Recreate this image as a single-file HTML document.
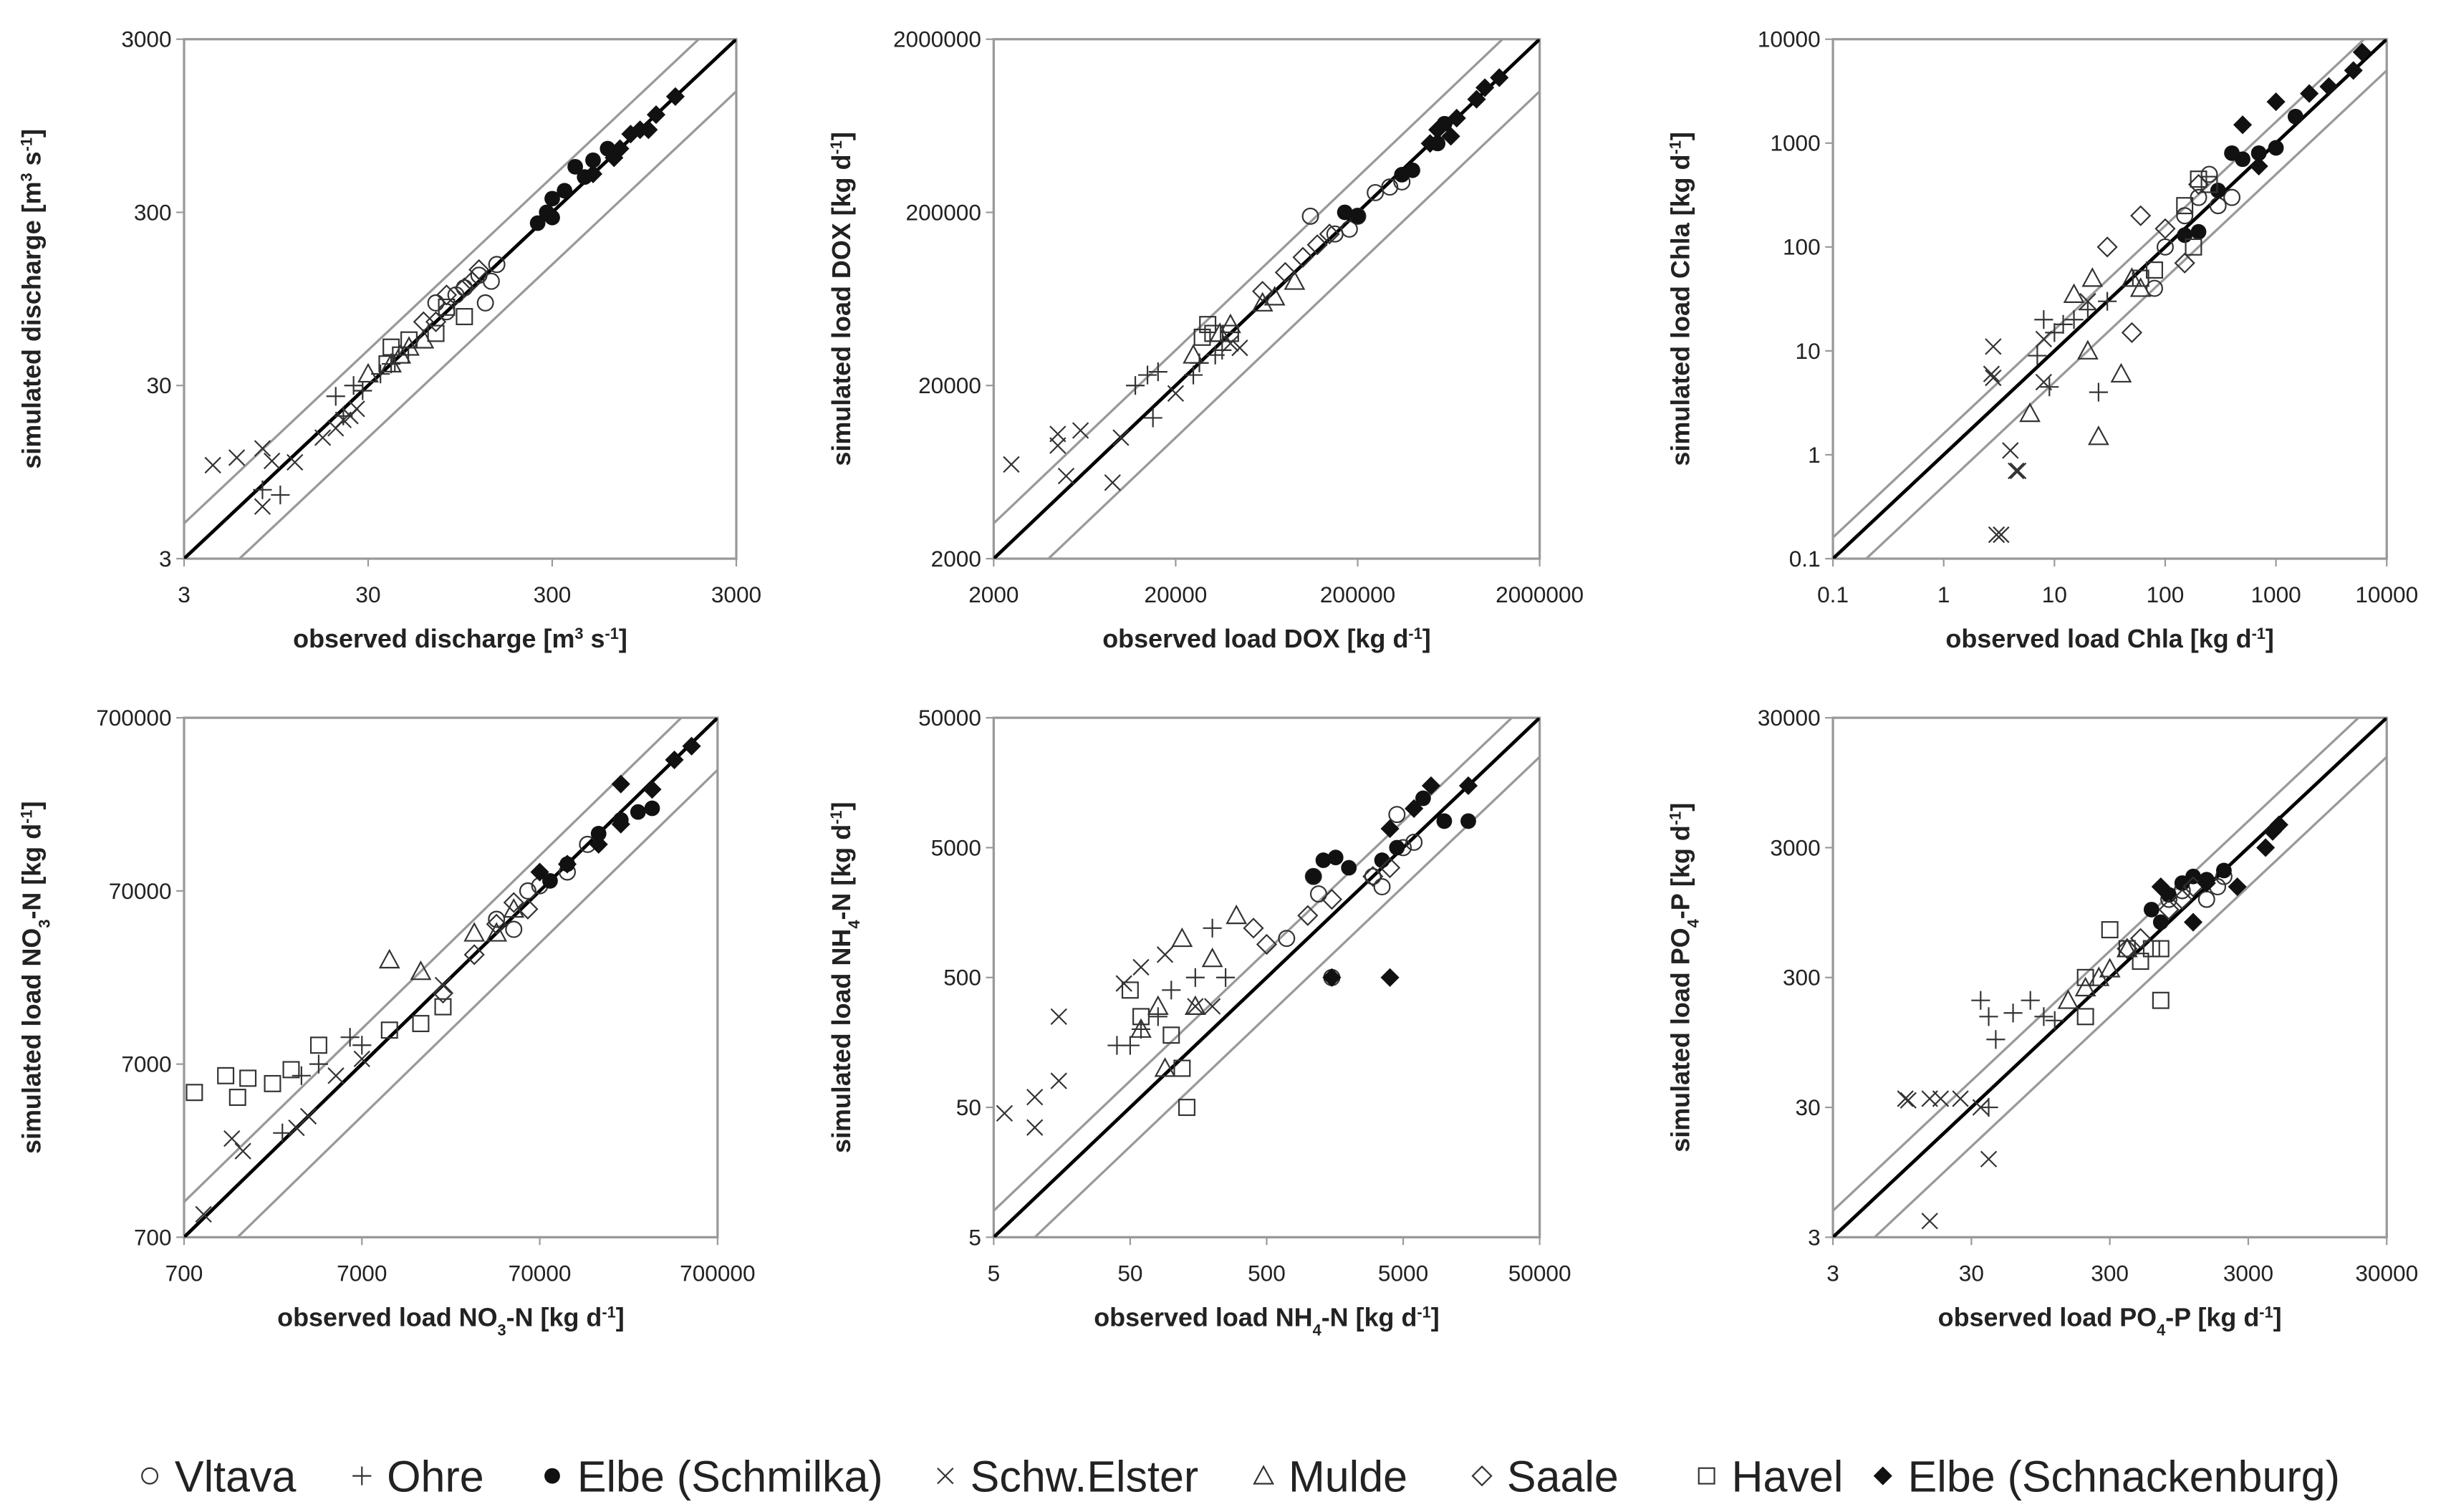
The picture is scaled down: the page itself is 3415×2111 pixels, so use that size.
<!DOCTYPE html>
<html><head><meta charset="utf-8"><style>
html,body{margin:0;padding:0;background:#fff;}
svg{display:block;}
text{font-family:"Liberation Sans","DejaVu Sans",sans-serif;fill:#222;}
</style></head><body>
<svg id="chart" width="3415" height="2111" viewBox="0 0 1568 969" xmlns="http://www.w3.org/2000/svg"></svg>
<script>
// ---- data (observed, simulated) per panel per series ----
const seriesNames = ["Vltava","Ohre","Elbe (Schmilka)","Schw.Elster","Mulde","Saale","Havel","Elbe (Schnackenburg)"];
const seriesKeys = ["vltava","ohre","schmilka","elster","mulde","saale","havel","schnack"];

const p1Vltava = [[70,90],[100,110],[120,130],[130,90],[90,100],[150,150],[80,80],[140,120]];
const p1Ohre = [[8,7.5],[20,26],[25,30],[28,28],[40,40],[35,35],[10,7],[22,20]];
const p1Schmilka = [[300,360],[400,550],[500,600],[300,280],[250,260],[600,700],[350,400],[450,480],[280,300]];
const p1Elster = [[4.3,10.4],[5.8,11.5],[8,13],[9,11],[12,10.8],[17,15],[20,17],[22,19],[24,20],[26,22],[8,6]];
const p1Mulde = [[40,40],[50,50],[60,55],[30,35],[45,45]];
const p1Saale = [[80,100],[100,110],[110,120],[120,140],[70,70],[60,70]];
const p1Havel = [[40,50],[50,55],[70,60],[100,75],[45,45],[80,85],[38,40]];
const p1Schnack = [[500,500],[700,700],[900,900],[1100,1100],[1400,1400],[650,620],[800,850],[1000,900]];

const p2Vltava = [[110000,190000],[150000,150000],[200000,190000],[300000,280000],[350000,300000],[250000,260000],[180000,160000]];
const p2Ohre = [[12000,20000],[14000,23000],[15000,13000],[16000,24000],[27000,27000],[33000,30000],[36000,32000],[25000,23000]];
const p2Schmilka = [[170000,200000],[200000,190000],[350000,330000],[550000,500000],[600000,650000],[400000,350000]];
const p2Elster = [[2500,7000],[4500,9000],[6000,11000],[5000,6000],[10000,10000],[9000,5500],[20000,18000],[45000,33000],[40000,35000],[4500,10500]];
const p2Mulde = [[25000,30000],[35000,40000],[40000,45000],[60000,60000],[70000,65000],[90000,80000]];
const p2Saale = [[80000,90000],[100000,110000],[120000,130000],[140000,150000],[60000,70000]];
const p2Havel = [[30000,45000],[32000,40000],[28000,38000],[40000,40000]];
const p2Schnack = [[500000,500000],[700000,700000],[900000,900000],[1200000,1200000],[1000000,1050000],[550000,600000],[650000,550000]];

const p3Vltava = [[100,100],[200,300],[300,250],[400,300],[150,200],[80,40],[250,500]];
const p3Ohre = [[8,20],[10,15],[12,18],[15,20],[25,4],[9,4.5],[30,30],[20,25],[7,9]];
const p3Schmilka = [[150,130],[200,140],[300,350],[400,800],[500,700],[700,800],[1500,1800],[1000,900]];
const p3Elster = [[2.8,11],[2.7,6],[2.8,5.5],[3,0.17],[3.3,0.17],[4,1.1],[4.5,0.7],[4.7,0.7],[8,5],[20,30],[8,13]];
const p3Mulde = [[6,2.5],[15,35],[20,10],[22,50],[25,1.5],[40,6],[50,50],[60,40]];
const p3Saale = [[30,100],[60,200],[50,15],[100,150],[150,70],[200,400]];
const p3Havel = [[60,50],[80,60],[150,250],[200,450],[180,100],[250,400]];
const p3Schnack = [[500,1500],[1000,2500],[2000,3000],[5000,5000],[6000,7500],[700,600],[3000,3500]];

const p4Vltava = [[40000,48000],[50000,42000],[60000,70000],[70000,75000],[100000,90000],[130000,130000]];
const p4Ohre = [[2500,2800],[3200,6000],[4000,7000],[6000,10000],[7000,9000]];
const p4Schmilka = [[80000,80000],[100000,100000],[150000,150000],[200000,180000],[250000,200000],[300000,210000]];
const p4Elster = [[900,950],[1300,2600],[1500,2200],[3000,3000],[3500,3500],[5000,6000],[7000,7500],[20000,20000]];
const p4Mulde = [[10000,28000],[15000,24000],[30000,40000],[40000,40000],[50000,55000]];
const p4Saale = [[20000,18000],[30000,30000],[40000,45000],[60000,55000],[50000,60000]];
const p4Havel = [[800,4800],[1200,6000],[1400,4500],[1600,5800],[2200,5400],[2800,6500],[4000,9000],[10000,11000],[15000,12000],[20000,15000]];
const p4Schnack = [[70000,90000],[100000,100000],[150000,130000],[200000,170000],[300000,270000],[400000,400000],[500000,480000],[200000,290000]];

const p5Vltava = [[1100,3000],[1200,2200],[700,1000],[1500,500],[3000,3000],[4500,9000],[5000,5000],[3500,2500],[6000,5500]];
const p5Ohre = [[40,150],[50,150],[60,200],[80,250],[100,400],[150,500],[200,1200],[250,500]];
const p5Schmilka = [[1100,3000],[1300,4000],[1600,4200],[2000,3500],[3500,4000],[4500,5000],[7000,12000],[10000,8000],[15000,8000]];
const p5Elster = [[6,45],[10,35],[10,60],[15,80],[15,250],[45,450],[60,600],[90,750],[200,300],[150,300]];
const p5Mulde = [[60,200],[80,300],[90,100],[120,1000],[150,300],[200,700],[300,1500]];
const p5Saale = [[400,1200],[500,900],[1000,1500],[1500,2000],[3000,3000],[4000,3500]];
const p5Havel = [[50,400],[60,250],[100,180],[130,50],[120,100]];
const p5Schnack = [[1500,500],[4000,500],[8000,15000],[6000,10000],[4000,7000],[15000,15000]];

const p6Vltava = [[800,1200],[1000,1400],[1500,1200],[2000,1800],[1800,1500]];
const p6Ohre = [[35,200],[40,150],[40,30],[60,160],[80,200],[100,150],[120,140],[45,100]];
const p6Schmilka = [[600,1000],[800,1300],[1000,1600],[1200,1800],[1500,1700],[2000,2000],[700,800]];
const p6Elster = [[10,35],[10.5,34],[15,35],[18,35],[25,35],[35,30],[40,12],[15,4]];
const p6Mulde = [[150,200],[200,250],[250,300],[300,350],[400,500]];
const p6Saale = [[400,500],[500,600],[800,1000],[1000,1200],[1200,1500]];
const p6Havel = [[200,150],[300,700],[400,500],[500,400],[600,500],[700,200],[700,500],[200,300]];
const p6Schnack = [[700,1500],[1500,1600],[2500,1500],[4000,3000],[4500,4000],[5000,4500],[1200,800]];

const p1Ticks = [3,30,300,3000];
const p2Ticks = [2000,20000,200000,2000000];
const p3Ticks = [0.1,1,10,100,1000,10000];
const p4Ticks = [700,7000,70000,700000];
const p5Ticks = [5,50,500,5000,50000];
const p6Ticks = [3,30,300,3000,30000];

const panels = [
 {id:"discharge",x0:118,x1:472,y0:25,y1:358,ticks:p1Ticks,data:[p1Vltava,p1Ohre,p1Schmilka,p1Elster,p1Mulde,p1Saale,p1Havel,p1Schnack],
  xt:['observed discharge [m',{s:'3'},' s',{s:'-1'},']'],yt:['simulated discharge [m',{s:'3'},' s',{s:'-1'},']']},
 {id:"dox",x0:637,x1:987,y0:25,y1:358,ticks:p2Ticks,data:[p2Vltava,p2Ohre,p2Schmilka,p2Elster,p2Mulde,p2Saale,p2Havel,p2Schnack],
  xt:['observed load DOX [kg d',{s:'-1'},']'],yt:['simulated load DOX [kg d',{s:'-1'},']']},
 {id:"chla",x0:1175,x1:1530,y0:25,y1:358,ticks:p3Ticks,data:[p3Vltava,p3Ohre,p3Schmilka,p3Elster,p3Mulde,p3Saale,p3Havel,p3Schnack],
  xt:['observed load Chla [kg d',{s:'-1'},']'],yt:['simulated load Chla [kg d',{s:'-1'},']']},
 {id:"no3",x0:118,x1:460,y0:460,y1:793,ticks:p4Ticks,data:[p4Vltava,p4Ohre,p4Schmilka,p4Elster,p4Mulde,p4Saale,p4Havel,p4Schnack],
  xt:['observed load NO',{b:'3'},'-N [kg d',{s:'-1'},']'],yt:['simulated load NO',{b:'3'},'-N [kg d',{s:'-1'},']']},
 {id:"nh4",x0:637,x1:987,y0:460,y1:793,ticks:p5Ticks,data:[p5Vltava,p5Ohre,p5Schmilka,p5Elster,p5Mulde,p5Saale,p5Havel,p5Schnack],
  xt:['observed load NH',{b:'4'},'-N [kg d',{s:'-1'},']'],yt:['simulated load NH',{b:'4'},'-N [kg d',{s:'-1'},']']},
 {id:"po4",x0:1175,x1:1530,y0:460,y1:793,ticks:p6Ticks,data:[p6Vltava,p6Ohre,p6Schmilka,p6Elster,p6Mulde,p6Saale,p6Havel,p6Schnack],
  xt:['observed load PO',{b:'4'},'-P [kg d',{s:'-1'},']'],yt:['simulated load PO',{b:'4'},'-P [kg d',{s:'-1'},']']}
];

const NS="http://www.w3.org/2000/svg";
const svg=document.getElementById('chart');
function mk(tag,attrs,parent){const e=document.createElementNS(NS,tag);for(const k in attrs)e.setAttribute(k,attrs[k]);(parent||svg).appendChild(e);return e;}
function fmt(v){return String(v);}
function fillTitle(t,parts){
  parts.forEach(p=>{const ts=document.createElementNS(NS,'tspan');
    if(typeof p==='string'){ts.textContent=p;}
    else if(p.s){ts.textContent=p.s;ts.setAttribute('baseline-shift','super');ts.setAttribute('font-size','10');}
    else {ts.textContent=p.b;ts.setAttribute('baseline-shift','sub');ts.setAttribute('font-size','10');}
    t.appendChild(ts);});
}
function marker(g,key,x,y){
  const st={stroke:'#333','stroke-width':1,fill:'none'};
  let e;
  if(key==='vltava'){e=mk('circle',{cx:x,cy:y,r:5,...st},g);}
  else if(key==='schmilka'){e=mk('circle',{cx:x,cy:y,r:5,fill:'#111'},g);}
  else if(key==='ohre'){e=mk('path',{d:`M${x-6},${y}H${x+6}M${x},${y-6}V${y+6}`,...st},g);}
  else if(key==='elster'){e=mk('path',{d:`M${x-5},${y-5}L${x+5},${y+5}M${x-5},${y+5}L${x+5},${y-5}`,...st},g);}
  else if(key==='mulde'){e=mk('path',{d:`M${x},${y-6}L${x+6},${y+5}L${x-6},${y+5}Z`,...st},g);}
  else if(key==='saale'){e=mk('path',{d:`M${x},${y-6}L${x+6},${y}L${x},${y+6}L${x-6},${y}Z`,...st},g);}
  else if(key==='havel'){e=mk('rect',{x:x-5,y:y-5,width:10,height:10,...st},g);}
  else {e=mk('path',{d:`M${x},${y-6}L${x+6},${y}L${x},${y+6}L${x-6},${y}Z`,fill:'#111'},g);}
  return e;
}
panels.forEach(P=>{
  const g=mk('g',{});
  
  
  const lmin=Math.log10(P.ticks[0]),lmax=Math.log10(P.ticks[P.ticks.length-1]);
  const sx=v=>P.x0+(Math.log10(v)-lmin)/(lmax-lmin)*(P.x1-P.x0);
  const sy=v=>P.y1-(Math.log10(v)-lmin)/(lmax-lmin)*(P.y1-P.y0);
  const lo=P.ticks[0],hi=P.ticks[P.ticks.length-1];
  const box=mk('rect',{x:P.x0,y:P.y0,width:P.x1-P.x0,height:P.y1-P.y0,fill:'none',stroke:'#999','stroke-width':1.5},g);
  
  
  P.ticks.forEach(t=>{
    mk('line',{x1:sx(t),x2:sx(t),y1:P.y1,y2:P.y1+5,stroke:'#999'},g);
    mk('line',{x1:P.x0-5,x2:P.x0,y1:sy(t),y2:sy(t),stroke:'#999'},g);
    const tx=mk('text',{x:sx(t),y:P.y1+28,'text-anchor':'middle','font-size':14.5},g);tx.textContent=fmt(t);
    
    
    const ty=mk('text',{x:P.x0-8,y:sy(t)+5,'text-anchor':'end','font-size':14.5},g);ty.textContent=fmt(t);
    
    
  });
  const cid='clip-'+P.id;
  const cp=mk('clipPath',{id:cid},g);mk('rect',{x:P.x0,y:P.y0,width:P.x1-P.x0,height:P.y1-P.y0},cp);
  const lg=mk('g',{'clip-path':`url(#${cid})`},g);
  const up=mk('line',{x1:sx(lo),y1:sy(lo*1.6),x2:sx(hi),y2:sy(hi*1.6),stroke:'#999','stroke-width':1.5},lg);
  
  
  const dn=mk('line',{x1:sx(lo*2),y1:sy(lo),x2:sx(hi*2),y2:sy(hi),stroke:'#999','stroke-width':1.5},lg);
  
  
  const one=mk('line',{x1:sx(lo),y1:sy(lo),x2:sx(hi),y2:sy(hi),stroke:'#000','stroke-width':2.2},lg);
  
  
  P.data.forEach((arr,i)=>{
    const sg=mk('g',{},g);
    
    
    arr.forEach(d=>{const m=marker(sg,seriesKeys[i],sx(d[0]),sy(d[1]));
      
      });
  });
  const xt=mk('text',{x:(P.x0+P.x1)/2,y:P.y1+57,'text-anchor':'middle','font-size':16.5,'font-weight':'bold'},g);
  fillTitle(xt,P.xt);
  
  
  const cx=P.x0-92,cy=(P.y0+P.y1)/2;
  const yt=mk('text',{x:cx,y:cy,'text-anchor':'middle','font-size':16.5,'font-weight':'bold',transform:`rotate(-90 ${cx} ${cy})`},g);
  fillTitle(yt,P.yt);
  
  
});
const legX=[96,232,354,606,810,950,1094,1207];
const legend=mk('g',{});


seriesNames.forEach((n,i)=>{
  const eg=mk('g',{},legend);
  
  
  marker(eg,seriesKeys[i],legX[i],946);
  const t=mk('text',{x:legX[i]+16,y:956,'font-size':28},eg);t.textContent=n;
});
</script>
</body></html>
